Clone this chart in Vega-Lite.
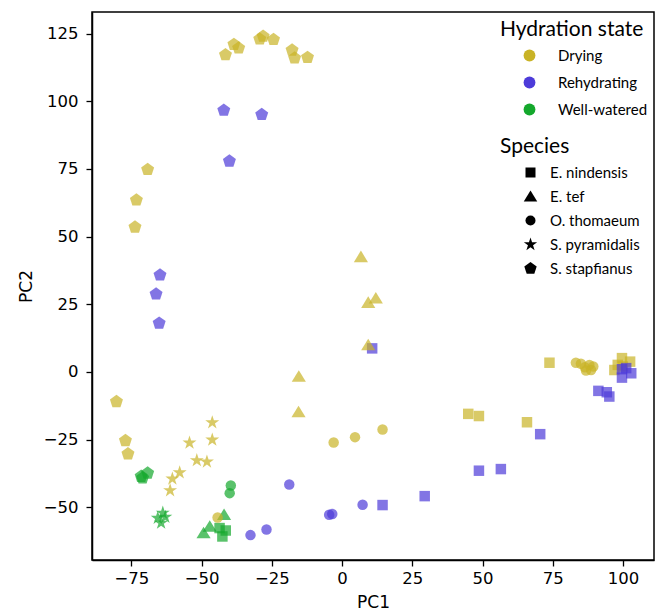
{
  "$schema": "https://vega.github.io/schema/vega-lite/v6.json",
  "width": 562,
  "height": 548,
  "autosize": {"type": "none"},
  "padding": {"left": 92, "top": 12, "right": 1, "bottom": 54},
  "background": "white",
  "config": {
    "view": {"stroke": "black", "strokeWidth": 1.5},
    "axis": {
      "grid": false,
      "domainColor": "black",
      "domainWidth": 1.5,
      "tickColor": "black",
      "tickWidth": 1.3,
      "tickSize": 6,
      "labelFont": "DejaVu Sans",
      "labelFontSize": 16.5,
      "labelColor": "black",
      "titleFont": "DejaVu Sans",
      "titleFontSize": 17,
      "titleFontWeight": "normal",
      "titleColor": "black"
    },
    "legend": {
      "titleFont": "Lato",
      "titleFontSize": 21,
      "titleFontWeight": "normal",
      "titleColor": "black",
      "labelFont": "Lato",
      "labelFontSize": 15,
      "labelColor": "black",
      "padding": 0,
      "symbolOpacity": 1,
      "symbolStrokeWidth": 0
    }
  },
  "data": {
    "values": [
      {"pc1": 73.8, "pc2": 3.4, "state": "Drying", "species": "E. nindensis"},
      {"pc1": 44.9, "pc2": -15.5, "state": "Drying", "species": "E. nindensis"},
      {"pc1": 48.7, "pc2": -16.3, "state": "Drying", "species": "E. nindensis"},
      {"pc1": 65.8, "pc2": -18.6, "state": "Drying", "species": "E. nindensis"},
      {"pc1": 99.6, "pc2": 5.1, "state": "Drying", "species": "E. nindensis"},
      {"pc1": 102.5, "pc2": 3.8, "state": "Drying", "species": "E. nindensis"},
      {"pc1": 98.1, "pc2": 2.6, "state": "Drying", "species": "E. nindensis"},
      {"pc1": 96.9, "pc2": 0.7, "state": "Drying", "species": "E. nindensis"},
      {"pc1": 99.9, "pc2": 2.0, "state": "Drying", "species": "E. nindensis"},
      {"pc1": 10.7, "pc2": 8.7, "state": "Rehydrating", "species": "E. nindensis"},
      {"pc1": 70.5, "pc2": -23.0, "state": "Rehydrating", "species": "E. nindensis"},
      {"pc1": 56.5, "pc2": -35.9, "state": "Rehydrating", "species": "E. nindensis"},
      {"pc1": 48.7, "pc2": -36.5, "state": "Rehydrating", "species": "E. nindensis"},
      {"pc1": 29.4, "pc2": -45.9, "state": "Rehydrating", "species": "E. nindensis"},
      {"pc1": 14.4, "pc2": -49.2, "state": "Rehydrating", "species": "E. nindensis"},
      {"pc1": 99.6, "pc2": 1.0, "state": "Rehydrating", "species": "E. nindensis"},
      {"pc1": 101.1, "pc2": 1.4, "state": "Rehydrating", "species": "E. nindensis"},
      {"pc1": 102.9, "pc2": -0.5, "state": "Rehydrating", "species": "E. nindensis"},
      {"pc1": 99.6, "pc2": -2.1, "state": "Rehydrating", "species": "E. nindensis"},
      {"pc1": 91.2, "pc2": -7.0, "state": "Rehydrating", "species": "E. nindensis"},
      {"pc1": 94.2, "pc2": -7.5, "state": "Rehydrating", "species": "E. nindensis"},
      {"pc1": 95.1, "pc2": -9.1, "state": "Rehydrating", "species": "E. nindensis"},
      {"pc1": -43.6, "pc2": -57.7, "state": "Well-watered", "species": "E. nindensis"},
      {"pc1": -41.4, "pc2": -58.6, "state": "Well-watered", "species": "E. nindensis"},
      {"pc1": -42.6, "pc2": -60.8, "state": "Well-watered", "species": "E. nindensis"},
      {"pc1": 6.7, "pc2": 42.5, "state": "Drying", "species": "E. tef"},
      {"pc1": 9.3, "pc2": 25.6, "state": "Drying", "species": "E. tef"},
      {"pc1": 12.0, "pc2": 27.2, "state": "Drying", "species": "E. tef"},
      {"pc1": 9.3, "pc2": 9.9, "state": "Drying", "species": "E. tef"},
      {"pc1": -15.4, "pc2": -1.7, "state": "Drying", "species": "E. tef"},
      {"pc1": -15.5, "pc2": -14.8, "state": "Drying", "species": "E. tef"},
      {"pc1": -42.0, "pc2": -52.8, "state": "Well-watered", "species": "E. tef"},
      {"pc1": -47.1, "pc2": -57.1, "state": "Well-watered", "species": "E. tef"},
      {"pc1": -49.3, "pc2": -59.5, "state": "Well-watered", "species": "E. tef"},
      {"pc1": -44.3, "pc2": -53.8, "state": "Drying", "species": "O. thomaeum"},
      {"pc1": -3.0, "pc2": -26.1, "state": "Drying", "species": "O. thomaeum"},
      {"pc1": 4.6, "pc2": -24.1, "state": "Drying", "species": "O. thomaeum"},
      {"pc1": 14.4, "pc2": -21.3, "state": "Drying", "species": "O. thomaeum"},
      {"pc1": 83.2, "pc2": 3.4, "state": "Drying", "species": "O. thomaeum"},
      {"pc1": 85.0, "pc2": 3.0, "state": "Drying", "species": "O. thomaeum"},
      {"pc1": 86.4, "pc2": 1.7, "state": "Drying", "species": "O. thomaeum"},
      {"pc1": 88.0, "pc2": 2.6, "state": "Drying", "species": "O. thomaeum"},
      {"pc1": 89.4, "pc2": 2.0, "state": "Drying", "species": "O. thomaeum"},
      {"pc1": 88.6, "pc2": 0.7, "state": "Drying", "species": "O. thomaeum"},
      {"pc1": 86.8, "pc2": 0.5, "state": "Drying", "species": "O. thomaeum"},
      {"pc1": -32.6, "pc2": -60.3, "state": "Rehydrating", "species": "O. thomaeum"},
      {"pc1": -26.9, "pc2": -58.2, "state": "Rehydrating", "species": "O. thomaeum"},
      {"pc1": -18.8, "pc2": -41.6, "state": "Rehydrating", "species": "O. thomaeum"},
      {"pc1": -4.6, "pc2": -52.8, "state": "Rehydrating", "species": "O. thomaeum"},
      {"pc1": -3.5, "pc2": -52.5, "state": "Rehydrating", "species": "O. thomaeum"},
      {"pc1": 7.3, "pc2": -49.1, "state": "Rehydrating", "species": "O. thomaeum"},
      {"pc1": -39.6, "pc2": -42.0, "state": "Well-watered", "species": "O. thomaeum"},
      {"pc1": -40.0, "pc2": -44.8, "state": "Well-watered", "species": "O. thomaeum"},
      {"pc1": -46.2, "pc2": -18.7, "state": "Drying", "species": "S. pyramidalis"},
      {"pc1": -46.2, "pc2": -25.1, "state": "Drying", "species": "S. pyramidalis"},
      {"pc1": -54.3, "pc2": -26.2, "state": "Drying", "species": "S. pyramidalis"},
      {"pc1": -51.7, "pc2": -32.7, "state": "Drying", "species": "S. pyramidalis"},
      {"pc1": -48.1, "pc2": -33.2, "state": "Drying", "species": "S. pyramidalis"},
      {"pc1": -57.8, "pc2": -37.2, "state": "Drying", "species": "S. pyramidalis"},
      {"pc1": -60.4, "pc2": -39.5, "state": "Drying", "species": "S. pyramidalis"},
      {"pc1": -61.2, "pc2": -43.8, "state": "Drying", "species": "S. pyramidalis"},
      {"pc1": -63.8, "pc2": -52.1, "state": "Well-watered", "species": "S. pyramidalis"},
      {"pc1": -65.6, "pc2": -54.0, "state": "Well-watered", "species": "S. pyramidalis"},
      {"pc1": -64.4, "pc2": -55.8, "state": "Well-watered", "species": "S. pyramidalis"},
      {"pc1": -62.9, "pc2": -53.6, "state": "Well-watered", "species": "S. pyramidalis"},
      {"pc1": -41.5, "pc2": 117.2, "state": "Drying", "species": "S. stapfianus"},
      {"pc1": -38.5, "pc2": 121.0, "state": "Drying", "species": "S. stapfianus"},
      {"pc1": -36.8, "pc2": 119.7, "state": "Drying", "species": "S. stapfianus"},
      {"pc1": -29.3, "pc2": 123.0, "state": "Drying", "species": "S. stapfianus"},
      {"pc1": -28.1, "pc2": 124.0, "state": "Drying", "species": "S. stapfianus"},
      {"pc1": -24.4, "pc2": 122.8, "state": "Drying", "species": "S. stapfianus"},
      {"pc1": -17.8, "pc2": 118.9, "state": "Drying", "species": "S. stapfianus"},
      {"pc1": -16.9, "pc2": 116.0, "state": "Drying", "species": "S. stapfianus"},
      {"pc1": -12.3, "pc2": 116.2, "state": "Drying", "species": "S. stapfianus"},
      {"pc1": -69.2, "pc2": 74.8, "state": "Drying", "species": "S. stapfianus"},
      {"pc1": -73.2, "pc2": 63.5, "state": "Drying", "species": "S. stapfianus"},
      {"pc1": -73.7, "pc2": 53.5, "state": "Drying", "species": "S. stapfianus"},
      {"pc1": -80.3, "pc2": -11.0, "state": "Drying", "species": "S. stapfianus"},
      {"pc1": -77.1, "pc2": -25.4, "state": "Drying", "species": "S. stapfianus"},
      {"pc1": -76.2, "pc2": -30.3, "state": "Drying", "species": "S. stapfianus"},
      {"pc1": -42.1, "pc2": 96.7, "state": "Rehydrating", "species": "S. stapfianus"},
      {"pc1": -28.6, "pc2": 95.1, "state": "Rehydrating", "species": "S. stapfianus"},
      {"pc1": -40.1, "pc2": 77.9, "state": "Rehydrating", "species": "S. stapfianus"},
      {"pc1": -64.8, "pc2": 35.8, "state": "Rehydrating", "species": "S. stapfianus"},
      {"pc1": -66.2, "pc2": 28.8, "state": "Rehydrating", "species": "S. stapfianus"},
      {"pc1": -65.1, "pc2": 18.0, "state": "Rehydrating", "species": "S. stapfianus"},
      {"pc1": -71.5, "pc2": -38.6, "state": "Well-watered", "species": "S. stapfianus"},
      {"pc1": -69.2, "pc2": -37.4, "state": "Well-watered", "species": "S. stapfianus"},
      {"pc1": -71.0, "pc2": -39.2, "state": "Well-watered", "species": "S. stapfianus"}
    ]
  },
  "mark": {"type": "point", "filled": true, "opacity": 0.7, "size": 110, "strokeWidth": 0},
  "encoding": {
    "x": {
      "field": "pc1", "type": "quantitative",
      "scale": {"domain": [-89, 111], "nice": false, "zero": false},
      "axis": {"values": [-75, -50, -25, 0, 25, 50, 75, 100], "title": "PC1", "labelPadding": 4, "titlePadding": 8}
    },
    "y": {
      "field": "pc2", "type": "quantitative",
      "scale": {"domain": [-69.5, 133], "nice": false, "zero": false},
      "axis": {"values": [-50, -25, 0, 25, 50, 75, 100, 125], "title": "PC2", "labelPadding": 8, "titlePadding": 8}
    },
    "color": {
      "field": "state", "type": "nominal",
      "scale": {"domain": ["Drying", "Rehydrating", "Well-watered"], "range": ["#c9b326", "#4d3bd9", "#14a82c"]},
      "legend": {
        "title": "Hydration state",
        "orient": "none",
        "legendX": 408,
        "legendY": 7,
        "symbolType": "circle",
        "symbolSize": 140,
        "symbolOffset": 22,
        "labelOffset": 21,
        "rowPadding": 11,
        "titlePadding": 8
      }
    },
    "shape": {
      "field": "species", "type": "nominal",
      "scale": {
        "domain": ["E. nindensis", "E. tef", "O. thomaeum", "S. pyramidalis", "S. stapfianus"],
        "range": [
          "square",
          "M0,-1.2L1.35,1L-1.35,1Z",
          "circle",
          "M0,-1.4L0.3145,-0.433L1.331,-0.433L0.509,0.165L0.823,1.133L0,0.535L-0.823,1.133L-0.509,0.165L-1.331,-0.433L-0.3145,-0.433Z",
          "M0,-1.3L1.236,-0.402L0.764,1.052L-0.764,1.052L-1.236,-0.402Z"
        ]
      },
      "legend": {
        "title": "Species",
        "orient": "none",
        "legendX": 408,
        "legendY": 124,
        "symbolSize": 100,
        "symbolOffset": 23,
        "symbolFillColor": "black",
        "labelOffset": 12,
        "rowPadding": 8,
        "titlePadding": 8,
        "encode": {
          "symbols": {"update": {"fill": {"value": "black"}, "opacity": {"value": 1}}}
        }
      }
    }
  }
}
